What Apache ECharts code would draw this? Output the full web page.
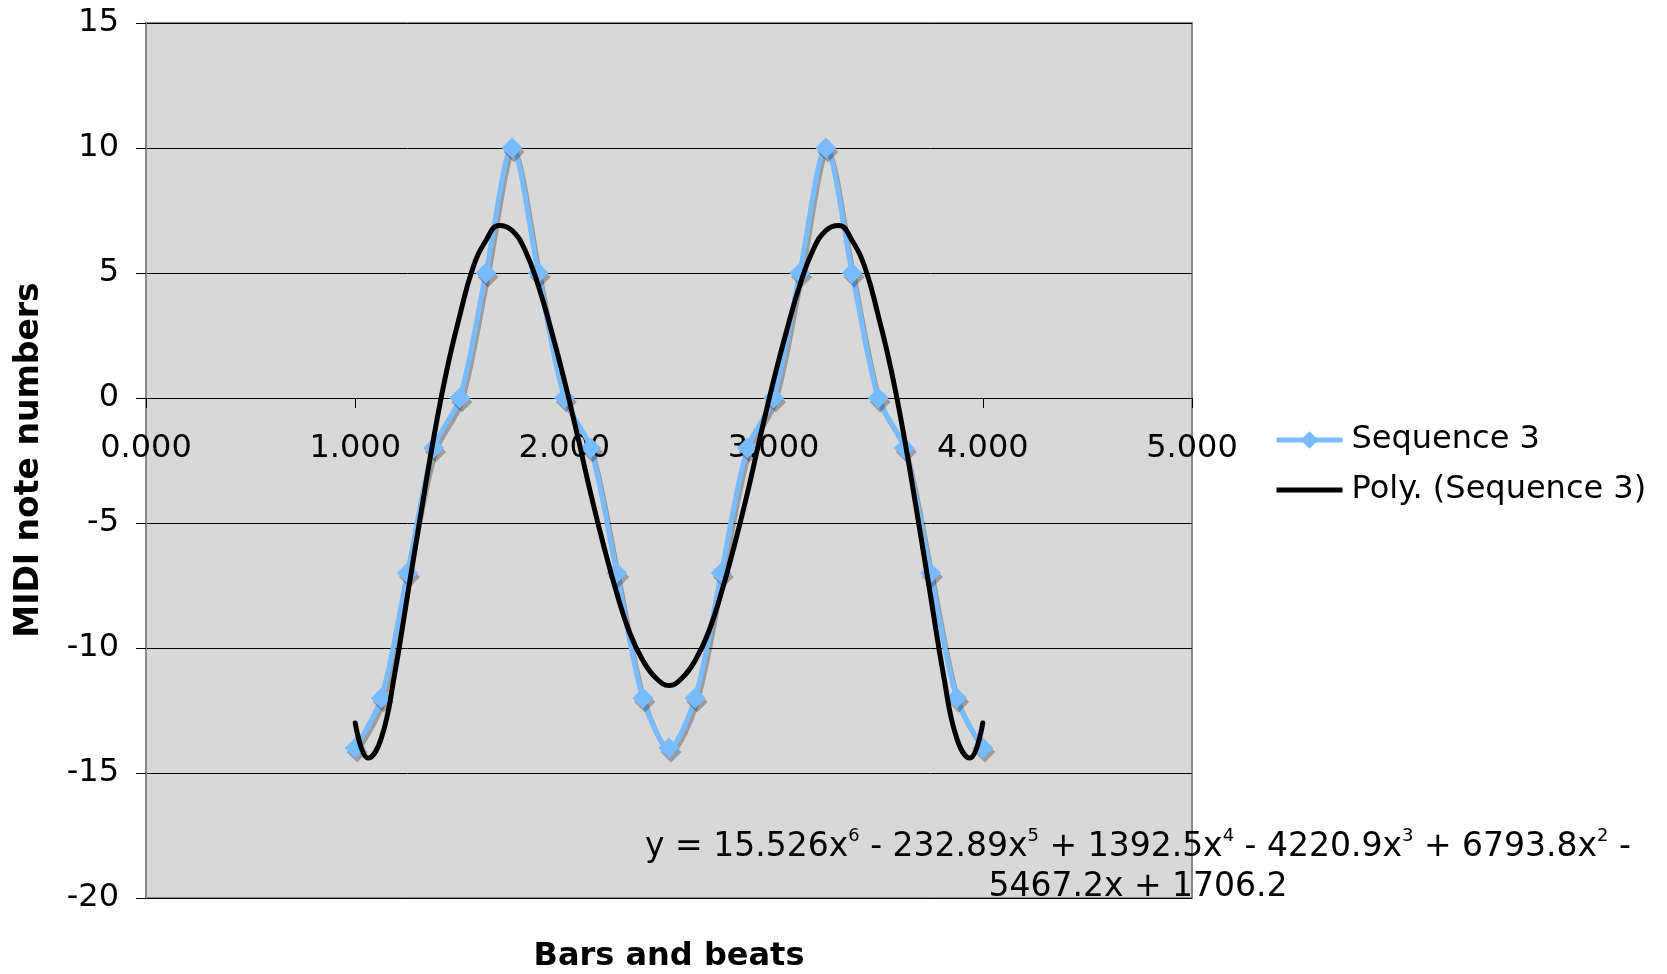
<!DOCTYPE html>
<html>
<head>
<meta charset="utf-8">
<script src="https://cdn.jsdelivr.net/npm/echarts@6/dist/echarts.min.js"></script>
<style>
html,body{margin:0;padding:0;background:#fff;}
#chart{width:1667px;height:974px;}
</style>
</head>
<body>
<div id="chart"></div>
<script>
// Sequence 3 data (bars and beats vs MIDI note numbers)
const seqX = [1.000,1.125,1.250,1.375,1.500,1.625,1.750,1.875,2.000,2.125,2.250,2.375,2.500,2.625,2.750,2.875,3.000,3.125,3.250,3.375,3.500,3.625,3.750,3.875,4.000];
const seqY = [-14,-12,-7,-2,0,5,10,5,0,-2,-7,-12,-14,-12,-7,-2,0,5,10,5,0,-2,-7,-12,-14];

// Polynomial trendline, values
const trendX = [1.0000,1.0625,1.1250,1.1875,1.2500,1.3125,1.3750,1.4375,1.5000,1.5625,1.6250,1.6875,1.7500,1.8125,1.8750,1.9375,2.0000,2.0625,2.1250,2.1875,2.2500,2.3125,2.3750,2.4375,2.5000,
                2.5625,2.6250,2.6875,2.7500,2.8125,2.8750,2.9375,3.0000,3.0625,3.1250,3.1875,3.2500,3.3125,3.3750,3.4375,3.5000,3.5625,3.6250,3.6875,3.7500,3.8125,3.8750,3.9375,4.0000];
const trendY = [-13.0,-14.4,-13.6,-11.1,-7.9,-4.7,-1.6,1.1,3.3,5.2,6.3,6.9,6.7,5.9,4.5,2.7,0.7,-1.5,-3.8,-5.9,-7.8,-9.4,-10.5,-11.2,-11.5,
                -11.2,-10.5,-9.4,-7.8,-5.9,-3.8,-1.5,0.7,2.7,4.5,5.9,6.7,6.9,6.3,5.2,3.3,1.1,-1.6,-4.7,-7.9,-11.1,-13.6,-14.4,-13.0];

const yTicks = [-20,-15,-10,-5,0,5,10,15];
const xTicks = [0,1,2,3,4,5];

const seriesNames = ['Sequence 3','Poly. (Sequence 3)'];
const xTitle = 'Bars and beats';
const yTitle = 'MIDI note numbers';
const eqLine1 = [['y = 15.526x','6'],[' - 232.89x','5'],[' + 1392.5x','4'],[' - 4220.9x','3'],[' + 6793.8x','2'],[' -','']];
const eqLine2 = '5467.2x + 1706.2';

const FONT = 'DejaVu Sans';
const seqData = seqX.map((x,i)=>[x, seqY[i]]);
const trendData = trendX.map((x,i)=>[x, trendY[i]]);

let eqText = eqLine1.map(p => '{t|' + p[0] + '}' + (p[1] ? '{s|' + p[1] + '}' : '')).join('') + '\n{t|' + eqLine2 + '}';

// grid geometry
const G = {left: 146, top: 23, right: 475, bottom: 76};
const plotH = 974 - G.top - G.bottom;
const zeroOffset = -plotH * (0 - yTicks[0]) / (yTicks[yTicks.length-1] - yTicks[0]);

const chart = echarts.init(document.getElementById('chart'), null, {renderer:'canvas'});
chart.setOption({
  animation: false,
  backgroundColor: '#ffffff',
  textStyle: {fontFamily: FONT},
  grid: {
    left: G.left, top: G.top, right: G.right, bottom: G.bottom,
    show: true, backgroundColor: '#d8d8d8', borderColor: '#888888', borderWidth: 2
  },
  legend: {
    orient: 'vertical',
    left: 1269, top: 419,
    itemWidth: 66, itemHeight: 22, itemGap: 18,
    lineStyle: {width: 5},
    textStyle: {fontFamily: FONT, fontSize: 32, color: '#000', padding: [0,0,0,4]},
    data: [
      {name: seriesNames[0]},
      {name: seriesNames[1], icon: 'path://M0,0 H66 V5 H0 Z', itemStyle: {color: '#000'}}
    ]
  },
  xAxis: {
    type: 'value', min: xTicks[0], max: xTicks[xTicks.length-1], interval: 1,
    position: 'bottom', offset: zeroOffset,
    axisLine: {show: true, onZero: false, lineStyle: {color: '#000', width: 1}},
    axisTick: {show: true, length: 10, lineStyle: {color: '#000'}},
    axisLabel: {fontFamily: FONT, fontSize: 32, color: '#000', margin: 35, formatter: v => v.toFixed(3)},
    splitLine: {show: false}
  },
  yAxis: {
    type: 'value', min: yTicks[0], max: yTicks[yTicks.length-1], interval: 5,
    axisLine: {show: true, lineStyle: {color: '#888888', width: 2}},
    axisTick: {show: true, length: 10, lineStyle: {color: '#000'}},
    axisLabel: {fontFamily: FONT, fontSize: 32, color: '#000', margin: 27},
    splitLine: {show: true, lineStyle: {color: '#000', width: 1}}
  },
  series: [
    {
      name: seriesNames[0], type: 'line', data: seqData, smooth: 0.3,
      symbol: 'diamond', symbolSize: 21, showSymbol: true,
      itemStyle: {color: '#78bbff', shadowColor: 'rgba(0,0,0,0.28)', shadowOffsetX: 2, shadowOffsetY: 4, shadowBlur: 0},
      lineStyle: {color: '#78bbff', width: 5, shadowColor: 'rgba(0,0,0,0.28)', shadowOffsetX: 2, shadowOffsetY: 4, shadowBlur: 0},
      z: 2
    },
    {
      name: seriesNames[1], type: 'line', data: trendData, smooth: 0.45,
      symbol: 'none', showSymbol: false,
      itemStyle: {color: '#000'},
      lineStyle: {color: '#000', width: 5, join: 'round', cap: 'round'},
      z: 3
    }
  ],
  graphic: [
    {
      type: 'text', x: 29, y: 460, rotation: Math.PI/2,
      style: {text: yTitle, fontFamily: FONT, fontSize: 33, fontWeight: 'bold', fill: '#000', align: 'center', verticalAlign: 'middle'}
    },
    {
      type: 'text', x: 669, y: 957,
      style: {text: xTitle, fontFamily: FONT, fontSize: 32, fontWeight: 'bold', fill: '#000', align: 'center', verticalAlign: 'middle'}
    },
    {
      type: 'text', x: 1138, y: 827, z: 10,
      style: {
        text: eqText, align: 'center', verticalAlign: 'top',
        rich: {
          t: {fontFamily: FONT, fontSize: 33, color: '#000', lineHeight: 40},
          s: {fontFamily: FONT, fontSize: 18, color: '#000', lineHeight: 40, padding: [0,0,22,0]}
        }
      }
    }
  ]
});
</script>
</body>
</html>
